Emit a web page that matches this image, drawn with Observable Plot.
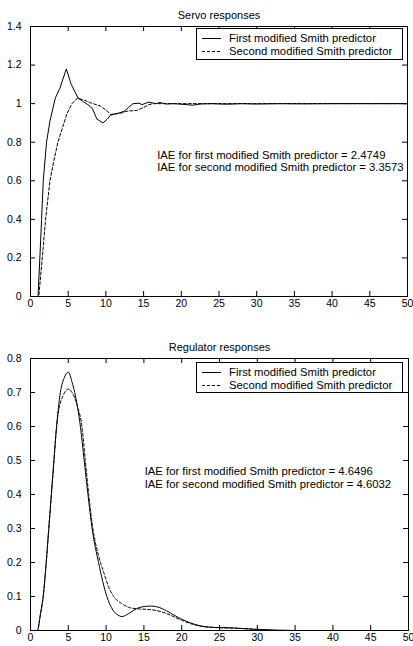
<!DOCTYPE html>
<html>
<head>
<meta charset="utf-8">
<script src="https://cdn.jsdelivr.net/npm/d3@7"></script>
<script src="https://cdn.jsdelivr.net/npm/@observablehq/plot@0.6"></script>
<style>
  body { margin: 0; background: #fff; font-family: "Liberation Sans", Arial, sans-serif; }
  #wrap { position: relative; width: 413px; height: 646px; overflow: hidden; background: #fff; }
  .panel { position: absolute; left: 0; width: 413px; }
  .panel svg { overflow: visible; display: block; }
  .legend { position: absolute; border: 1px solid #000; background: #fff; box-sizing: border-box; font-size: 11.3px; color: #000; }
  .row { position: absolute; left: 0; height: 14px; display: flex; align-items: center; white-space: nowrap; }
  .row svg { display: block; }
</style>
</head>
<body>
<div id="wrap"></div>
<script>
// ---------- data ----------
const xTicks = [0, 5, 10, 15, 20, 25, 30, 35, 40, 45, 50];
const servoYTicks = [0, 0.2, 0.4, 0.6, 0.8, 1, 1.2, 1.4];
const regYTicks = [0, 0.1, 0.2, 0.3, 0.4, 0.5, 0.6, 0.7, 0.8];

const seriesNames = ["First modified Smith predictor", "Second modified Smith predictor"];
const titles = ["Servo responses", "Regulator responses"];
const servoIAE = ["IAE for first modified Smith predictor = 2.4749", "IAE for second modified Smith predictor = 3.3573"];
const regIAE = ["IAE for first modified Smith predictor = 4.6496", "IAE for second modified Smith predictor = 4.6032"];

// Servo responses – first modified Smith predictor
const servoT1 = [0, 1.0, 1.24, 1.47, 1.69, 2.13, 2.58, 3.3, 3.9, 4.75, 5.4, 6.3, 6.9, 7.6, 8.2, 8.8, 9.6, 10.2, 10.6, 11.6, 12.4, 13.0, 13.6, 14.4, 14.8, 15.7, 16.6, 17.2, 18.0, 19.0, 20.0, 21.5, 22.5, 24, 26, 28, 30, 33, 36, 40, 45, 50];
const servoY1 = [0, 0, 0.2, 0.4, 0.6, 0.8, 0.91, 1.03, 1.08, 1.18, 1.10, 1.03, 1.012, 0.995, 0.976, 0.92, 0.90, 0.92, 0.94, 0.95, 0.96, 0.98, 1.0, 1.002, 0.995, 1.008, 1.0, 1.006, 0.998, 1.0, 0.997, 0.992, 0.998, 1.0, 0.997, 1.0, 0.998, 1.0, 0.999, 1.0, 1.0, 1.0];
// Servo responses – second modified Smith predictor
const servoT2 = [0, 1.1, 1.56, 2.0, 2.58, 3.1, 3.64, 4.44, 4.86, 5.5, 6.2, 7.0, 8.0, 9.3, 10.2, 10.6, 11.9, 12.8, 14.1, 15.0, 15.7, 16.3, 18, 20, 25, 30, 40, 50];
const servoY2 = [0, 0, 0.2, 0.4, 0.6, 0.705, 0.8, 0.9, 0.95, 1.0, 1.028, 1.02, 1.004, 0.987, 0.961, 0.944, 0.95, 0.961, 0.965, 0.98, 0.995, 1.0, 1.0, 1.0, 1.0, 1.0, 1.0, 1.0];

// Regulator responses – first modified Smith predictor
const regT1 = [0, 0.9, 1.33, 1.68, 2.08, 2.42, 2.76, 3.1, 3.45, 3.95, 4.5, 5.0, 5.5, 5.85, 6.6, 7.1, 7.6, 8.15, 9.0, 10.1, 10.9, 11.6, 12.1, 13.0, 14.0, 15.2, 16.0, 17.0, 18.0, 19.0, 20.1, 21.2, 22.6, 24.5, 26.5, 28.5, 30.5, 32.5, 35, 40, 50];
const regY1 = [0, 0, 0.05, 0.1, 0.2, 0.3, 0.4, 0.5, 0.6, 0.7, 0.745, 0.76, 0.73, 0.7, 0.6, 0.5, 0.4, 0.3, 0.2, 0.1, 0.06, 0.045, 0.041, 0.05, 0.064, 0.071, 0.072, 0.068, 0.058, 0.045, 0.032, 0.022, 0.013, 0.009, 0.008, 0.005, 0.003, 0.001, 0, 0, 0];
// Regulator responses – second modified Smith predictor
const regT2 = [0, 0.9, 1.33, 1.68, 2.08, 2.42, 2.76, 3.1, 3.45, 3.75, 4.3, 5.0, 5.5, 6.2, 6.8, 7.25, 7.7, 8.25, 9.0, 9.7, 10.3, 11.0, 12.0, 13.0, 14.0, 15.5, 16.8, 18.0, 19.0, 20.0, 21.2, 23.0, 25, 28, 30, 32, 35, 40, 50];
const regY2 = [0, 0, 0.05, 0.1, 0.2, 0.3, 0.4, 0.5, 0.6, 0.65, 0.69, 0.71, 0.70, 0.66, 0.6, 0.5, 0.4, 0.3, 0.22, 0.17, 0.13, 0.1, 0.08, 0.068, 0.064, 0.062, 0.058, 0.05, 0.04, 0.03, 0.02, 0.011, 0.008, 0.006, 0.003, 0.001, 0, 0, 0];

// ---------- drawing ----------
const FONT = "'Liberation Sans', Arial, sans-serif";
const toRows = (T, Y) => T.map((t, i) => ({t, y: Y[i]}));
const fmt = d => String(d);

function makePanel({top, height, mt, mb, mr, yDomain, yTicks, title, s1, s2, curve, iae, iaeX, iaeY, legendTop, legendH}) {
  const W = 413 - 30 - mr;
  const H = height - mt - mb;
  const chart = Plot.plot({
    width: 413, height,
    marginTop: mt, marginBottom: mb, marginLeft: 30, marginRight: mr,
    style: {fontFamily: FONT, fontSize: "10.5px", color: "#000", background: "transparent", overflow: "visible"},
    x: {domain: [0, 50], ticks: xTicks, tickSize: 0, tickPadding: 3, tickFormat: fmt, label: null},
    y: {domain: yDomain, ticks: yTicks, tickSize: 0, tickPadding: 9, tickFormat: fmt, label: null},
    marks: [
      Plot.frame({stroke: "#000", strokeWidth: 1}),
      Plot.tickX(xTicks.slice(1, -1), {x: d => d, insetTop: H - 5, stroke: "#000"}),
      Plot.tickX(xTicks.slice(1, -1), {x: d => d, insetBottom: H - 5, stroke: "#000"}),
      Plot.tickY(yTicks.slice(1, -1), {y: d => d, insetRight: W - 5, stroke: "#000"}),
      Plot.tickY(yTicks.slice(1, -1), {y: d => d, insetLeft: W - 5, stroke: "#000"}),
      Plot.line(s1, {x: "t", y: "y", stroke: "#000", strokeWidth: 1, curve}),
      Plot.line(s2, {x: "t", y: "y", stroke: "#000", strokeWidth: 1, strokeDasharray: "3,2", curve}),
      Plot.text([iae[0]], {x: iaeX, y: iaeY[0], text: d => d, textAnchor: "start", lineAnchor: "middle", fontSize: 11.3, fill: "#000"}),
      Plot.text([iae[1]], {x: iaeX, y: iaeY[1], text: d => d, textAnchor: "start", lineAnchor: "middle", fontSize: 11.3, fill: "#000"}),
      Plot.text([title], {frameAnchor: "top", dy: -11, text: d => d, lineAnchor: "middle", fontSize: 11, fill: "#000"})
    ]
  });
  const div = document.createElement("div");
  div.className = "panel";
  div.style.top = top + "px";
  div.style.height = height + "px";
  div.appendChild(chart);

  // legend box
  const lg = document.createElement("div");
  lg.className = "legend";
  lg.style.left = "196px";
  lg.style.top = (legendTop - top) + "px";
  lg.style.width = "207px";
  lg.style.height = legendH + "px";
  seriesNames.forEach((name, i) => {
    const row = document.createElement("div");
    row.className = "row";
    row.style.top = (i === 0 ? 2 : 15) + "px";
    row.innerHTML = `<svg width="32" height="14"><line x1="5" x2="24" y1="7.5" y2="7.5" stroke="#000" stroke-width="1" ${i === 1 ? 'stroke-dasharray="3,2"' : ''}/></svg><span>${name}</span>`;
    lg.appendChild(row);
  });
  div.appendChild(lg);
  document.getElementById("wrap").appendChild(div);
}

makePanel({
  top: 0, height: 323, mt: 26, mb: 27, mr: 6,
  yDomain: [0, 1.4], yTicks: servoYTicks, title: titles[0],
  s1: toRows(servoT1, servoY1), s2: toRows(servoT2, servoY2), curve: "linear",
  iae: servoIAE, iaeX: 16.8, iaeY: [0.733, 0.668],
  legendTop: 28, legendH: 32
});

makePanel({
  top: 323, height: 323, mt: 35, mb: 16, mr: 5,
  yDomain: [0, 0.8], yTicks: regYTicks, title: titles[1],
  s1: toRows(regT1, regY1), s2: toRows(regT2, regY2), curve: "monotone-x",
  iae: regIAE, iaeX: 15.1, iaeY: [0.469, 0.43],
  legendTop: 362, legendH: 31
});
</script>
</body>
</html>
